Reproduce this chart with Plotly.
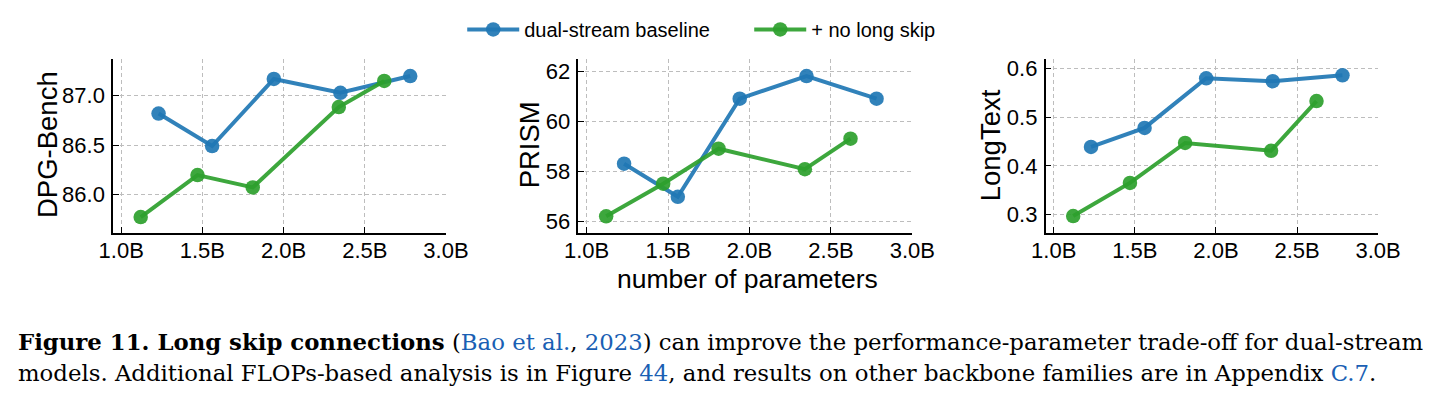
import plotly.graph_objects as go

# ---------------- data ----------------
blue_x = [1.23, 1.56, 1.94, 2.35, 2.78]
green_x = [1.12, 1.47, 1.81, 2.34, 2.62]

dpg_blue = [86.82, 86.49, 87.17, 87.03, 87.20]
dpg_green = [85.77, 86.195, 86.07, 86.885, 87.15]

prism_blue = [58.3, 56.98, 60.9, 61.8, 60.9]
prism_green = [56.2, 57.5, 58.9, 58.08, 59.3]

long_blue = [0.439, 0.478, 0.580, 0.574, 0.586]
long_green = [0.297, 0.365, 0.447, 0.431, 0.533]

x_ticks = [1.0, 1.5, 2.0, 2.5, 3.0]
x_tick_labels = ["1.0B", "1.5B", "2.0B", "2.5B", "3.0B"]

panel_titles = ["DPG-Bench", "PRISM", "LongText"]
series_names = ["dual-stream baseline", "+ no long skip"]

# ---------------- style ----------------
W, H = 1445, 409
BLUE = "rgba(31,119,180,0.92)"
GREEN = "rgba(44,160,44,0.92)"
FONT = "Liberation Sans, Arial, sans-serif"

def px_x(p):
    return p / W

def px_y(p):
    return 1 - p / H

x_domains = [(101.7, 443.3), (579.3, 922.0), (1058.7, 1400.0)]
y_dom = (px_y(232.5), px_y(57.0))
y_ranges = [(85.61, 87.377), (55.54, 62.5), (0.2625, 0.6204)]
y_ticks = [[86.0, 86.5, 87.0], [56, 58, 60, 62], [0.3, 0.4, 0.5, 0.6]]
y_fmt = [".1f", "d", ".1f"]
title_x = [35, 530, 1003]

fig = go.Figure()

data = [(dpg_blue, dpg_green), (prism_blue, prism_green), (long_blue, long_green)]
for i, (yb, yg) in enumerate(data):
    ax = "" if i == 0 else str(i + 1)
    for xs, ys, col, name in [(blue_x, yb, BLUE, series_names[0]),
                              (green_x, yg, GREEN, series_names[1])]:
        fig.add_trace(go.Scatter(
            x=xs, y=ys, mode="lines+markers", name=name,
            line=dict(color=col, width=4),
            marker=dict(color=col, size=14.5),
            xaxis="x" + ax, yaxis="y" + ax,
            showlegend=(i == 0), legendgroup=name,
        ))

layout = dict(
    width=W, height=H,
    margin=dict(l=0, r=0, t=0, b=0),
    paper_bgcolor="white", plot_bgcolor="white",
    font=dict(family=FONT, color="black", size=22),
    showlegend=True,
    legend=dict(orientation="h", x=px_x(460), xanchor="left", y=px_y(8), yanchor="top",
                font=dict(size=20, family=FONT), itemwidth=52,
                entrywidth=220, entrywidthmode="pixels",
                bgcolor="rgba(0,0,0,0)", tracegroupgap=0),
)

for i in range(3):
    ax = "" if i == 0 else str(i + 1)
    d0, d1 = x_domains[i]
    common = dict(
        ticks="inside", ticklen=6, tickwidth=1.3, tickcolor="black",
        showline=True, linecolor="black", linewidth=1.6,
        showgrid=True, gridcolor="#bdbdbd", griddash="4px,3px", gridwidth=1,
        zeroline=False, tickfont=dict(size=22),
    )
    layout["xaxis" + ax] = dict(
        domain=[px_x(d0), px_x(d1)], range=[0.95, 3.0], anchor="y" + ax,
        tickvals=x_ticks, ticktext=x_tick_labels, ticklabelstandoff=-3, **common)
    layout["yaxis" + ax] = dict(
        domain=list(y_dom), range=list(y_ranges[i]), anchor="x" + ax,
        tickvals=y_ticks[i], tickformat=y_fmt[i], ticklabelstandoff=2, **common)

fig.update_layout(**layout)

annotations = []
for i in range(3):
    annotations.append(dict(
        text=panel_titles[i], x=px_x(title_x[i]), y=px_y(144),
        xref="paper", yref="paper", xanchor="center", yanchor="middle",
        textangle=-90, showarrow=False, font=dict(size=27.5, family=FONT),
    ))
annotations.append(dict(
    text="number of parameters", x=px_x(753), y=px_y(279),
    xref="paper", yref="paper", xanchor="center", yanchor="middle",
    showarrow=False, font=dict(size=26.5, family=FONT),
))

LINK = "#1a5fb4"
cap1 = ("<b>Figure 11. Long skip connections</b> (<span style='color:%s'>Bao et al.</span>, "
        "<span style='color:%s'>2023</span>) can improve the performance-parameter trade-off for dual-stream") % (LINK, LINK)
cap2 = ("models. Additional FLOPs-based analysis is in Figure <span style='color:%s'>44</span>, "
        "and results on other backbone families are in Appendix <span style='color:%s'>C.7</span>.") % (LINK, LINK)
SERIF = "DejaVu Serif, serif"
annotations.append(dict(text=cap1, x=px_x(2), y=px_y(343), xref="paper", yref="paper",
                        xanchor="left", yanchor="middle", showarrow=False, align="left",
                        font=dict(size=22.8, family=SERIF)))
annotations.append(dict(text=cap2, x=px_x(2), y=px_y(374), xref="paper", yref="paper",
                        xanchor="left", yanchor="middle", showarrow=False, align="left",
                        font=dict(size=22.8, family=SERIF)))
fig.update_layout(annotations=annotations)

fig.write_html("out.html")
